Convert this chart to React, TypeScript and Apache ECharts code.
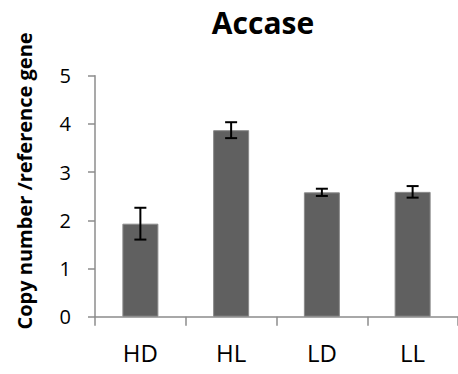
import React, { useEffect, useRef } from "react";
import * as echarts from "echarts";

const categories = ["HD", "HL", "LD", "LL"];
const values = [1.93, 3.87, 2.58, 2.59];
const errors = [0.33, 0.165, 0.075, 0.12];
const yTicks = { min: 0, max: 5, interval: 1 };
const titleText = "Accase";
const yName = "Copy number /reference gene";

const FONT = "'Open Sans', sans-serif";

export default function App() {
  const ref = useRef<HTMLDivElement>(null);
  useEffect(() => {
    document.body.style.margin = "0";
    const chart = echarts.init(ref.current!, undefined, { renderer: "svg" });
    const errData = categories.map((_, i) => [i, values[i] - errors[i], values[i] + errors[i]]);
    chart.setOption({
      animation: false,
      backgroundColor: "#ffffff",
      grid: { left: 95, right: 0, top: 75.7, bottom: 57.3, containLabel: false },
      graphic: [
        {
          type: "text",
          x: 263,
          y: 22,
          style: {
            text: titleText,
            font: `bold 30px ${FONT}`,
            fill: "#000",
            textAlign: "center",
            textVerticalAlign: "middle",
          },
        },
        {
          type: "text",
          x: 24,
          y: 181,
          rotation: Math.PI / 2,
          style: {
            text: yName,
            font: `bold 20px ${FONT}`,
            fill: "#000",
            textAlign: "center",
            textVerticalAlign: "middle",
          },
        },
      ],
      xAxis: {
        type: "category",
        data: categories,
        boundaryGap: true,
        axisLine: { show: true, lineStyle: { color: "#8c8c8c", width: 1.5 } },
        axisTick: { show: true, length: 9, lineStyle: { color: "#8c8c8c", width: 1.5 } },
        axisLabel: { color: "#000", fontSize: 24, fontFamily: FONT, margin: 24 },
      },
      yAxis: {
        type: "value",
        min: yTicks.min,
        max: yTicks.max,
        interval: yTicks.interval,
        splitLine: { show: false },
        axisLine: { show: true, lineStyle: { color: "#8c8c8c", width: 1.5 } },
        axisTick: { show: true, length: 7, lineStyle: { color: "#8c8c8c", width: 1.5 } },
        axisLabel: { color: "#000", fontSize: 20, fontFamily: FONT, margin: 24 },
      },
      series: [
        {
          type: "bar",
          data: values,
          barWidth: 36,
          itemStyle: { color: "#606060", borderColor: "#8a8a8a", borderWidth: 1 },
        },
        {
          type: "custom",
          data: errData,
          z: 10,
          renderItem: (params: any, api: any) => {
            const x = api.value(0);
            const lo = api.coord([x, api.value(1)]);
            const hi = api.coord([x, api.value(2)]);
            const hw = 6;
            const style = { stroke: "#000", lineWidth: 2 };
            return {
              type: "group",
              children: [
                { type: "line", shape: { x1: lo[0], y1: lo[1], x2: hi[0], y2: hi[1] }, style },
                { type: "line", shape: { x1: lo[0] - hw, y1: lo[1], x2: lo[0] + hw, y2: lo[1] }, style },
                { type: "line", shape: { x1: hi[0] - hw, y1: hi[1], x2: hi[0] + hw, y2: hi[1] }, style },
              ],
            };
          },
        },
      ],
    });
    return () => chart.dispose();
  }, []);
  return <div ref={ref} style={{ width: 458, height: 374 }} />;
}
